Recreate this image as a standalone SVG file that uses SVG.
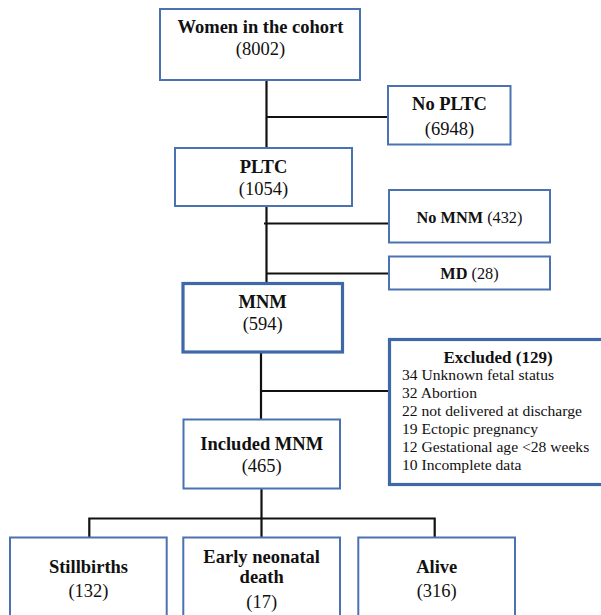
<svg xmlns="http://www.w3.org/2000/svg" width="601" height="615" viewBox="0 0 601 615">
<style>
.box{fill:#fff;stroke:#4a72b2;stroke-width:2}
.thick{stroke:#3f68a8;stroke-width:3.2}
text{font-family:'Liberation Serif','DejaVu Serif',serif;fill:#111}
.t{font-size:18.5px;text-anchor:middle}
.b{font-weight:bold}
.s{font-size:16.3px;text-anchor:middle}
.e{font-size:15.6px}
.c{fill:none;stroke:#111;stroke-width:2.2}
</style>
<rect width="601" height="615" fill="#fff"/>
<g id="connectors">
<path class="c" d="M266.5 80V148M266.5 117H388"/>
<path class="c" d="M266.5 206V283M264 223.5H389M266.5 273.5H389"/>
<path class="c" d="M261 352V419M261 391H389"/>
<path class="c" d="M261.5 489V537.5M89.3 537.5V518.5H434.7V537.5"/>
</g>
<g id="women">
<rect class="box" x="160" y="9" width="200" height="71"/>
<text class="t b" x="260.5" y="32.5">Women in the cohort</text>
<text class="t" x="260.5" y="55">(8002)</text>
</g>
<g id="noPLTC">
<rect class="box" x="388" y="86" width="122.5" height="58.5"/>
<text class="t b" x="449.5" y="110">No PLTC</text>
<text class="t" x="449.5" y="135">(6948)</text>
</g>
<g id="PLTC">
<rect class="box" x="175" y="148" width="177" height="58"/>
<text class="t b" x="263.5" y="173">PLTC</text>
<text class="t" x="263.5" y="194.5">(1054)</text>
</g>
<g id="noMNM">
<rect class="box" x="389" y="190" width="161" height="52.5"/>
<text class="s" x="469.5" y="222.5"><tspan class="b">No MNM</tspan> (432)</text>
</g>
<g id="MD">
<rect class="box" x="389" y="256.5" width="161" height="33"/>
<text class="s" x="469.5" y="279"><tspan class="b">MD</tspan> (28)</text>
</g>
<g id="MNM">
<rect class="box thick" x="183" y="283.5" width="159.5" height="68.5"/>
<text class="t b" x="262.7" y="307.5">MNM</text>
<text class="t" x="262.7" y="330">(594)</text>
</g>
<g id="excluded">
<rect class="box thick" x="389.5" y="339.5" width="220" height="145"/>
<text class="t b" x="498" y="362.5" style="font-size:17px">Excluded (129)</text>
<text class="e" x="402" y="380">34 Unknown fetal status</text>
<text class="e" x="402" y="398">32 Abortion</text>
<text class="e" x="402" y="416">22 not delivered at discharge</text>
<text class="e" x="402" y="434">19 Ectopic pregnancy</text>
<text class="e" x="402" y="452">12 Gestational age &lt;28 weeks</text>
<text class="e" x="402" y="470">10 Incomplete data</text>
</g>
<g id="included">
<rect class="box" x="183.5" y="419.5" width="156.5" height="69"/>
<text class="t b" x="261.7" y="450">Included MNM</text>
<text class="t" x="261.7" y="472">(465)</text>
</g>
<g id="stillbirths">
<rect class="box" x="10" y="537.5" width="156.7" height="90"/>
<text class="t b" x="88.5" y="572.5">Stillbirths</text>
<text class="t" x="88.5" y="596.5">(132)</text>
</g>
<g id="early">
<rect class="box" x="183.3" y="537.5" width="156.7" height="90"/>
<text class="t b" x="261.7" y="563">Early neonatal</text>
<text class="t b" x="261.7" y="583">death</text>
<text class="t" x="261.7" y="608">(17)</text>
</g>
<g id="alive">
<rect class="box" x="358.3" y="537.5" width="156.7" height="90"/>
<text class="t b" x="436.7" y="572.5">Alive</text>
<text class="t" x="436.7" y="596.5">(316)</text>
</g>
</svg>
